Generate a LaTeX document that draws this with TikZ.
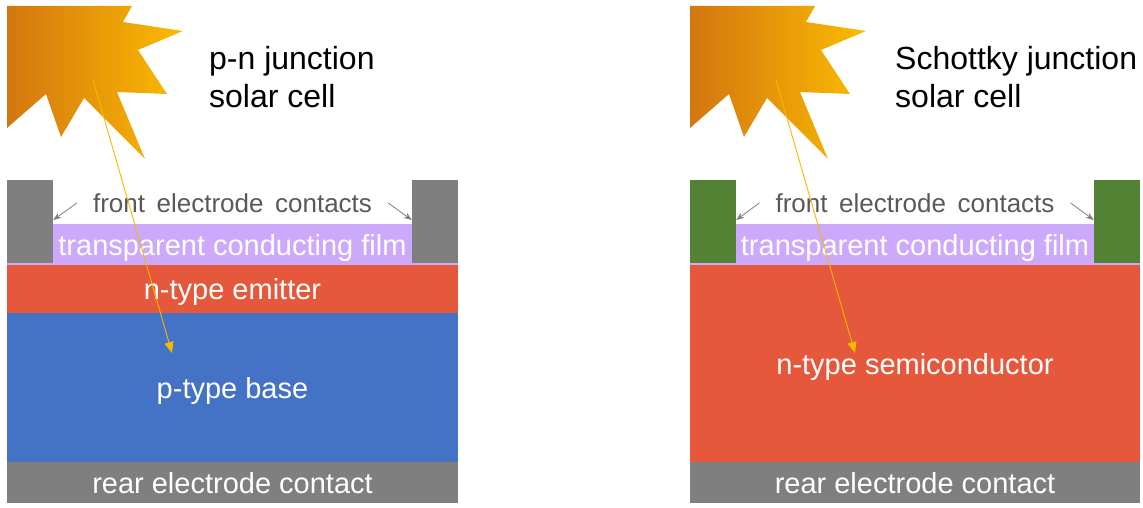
\documentclass[tikz,border=0pt]{standalone}
\usepackage{fontspec}
\setmainfont{Liberation Sans}
\usepackage{tikz}
\usetikzlibrary{positioning, arrows.meta}

\definecolor{contactgray}{HTML}{7F7F7F}
\definecolor{contactgreen}{HTML}{548235}
\definecolor{filmpurple}{HTML}{CDA9FB}
\definecolor{ntypered}{HTML}{E5583B}
\definecolor{ptypeblue}{HTML}{4472C4}
\definecolor{labelgray}{HTML}{595959}
\definecolor{sundark}{HTML}{C86414}
\definecolor{sungold}{HTML}{FCBE00}
\definecolor{raygold}{HTML}{F5B900}

\tikzset{
    layer/.style={inner sep=0pt, text=white, text depth=0pt, font=\fontsize{29}{34}\selectfont},
    contact/.style={inner sep=0pt, minimum width=46pt, minimum height=83pt},
    title/.style={inner sep=0pt, anchor=west, align=left, font=\fontsize{32}{38}\selectfont},
    pointer/.style={draw=contactgray, line width=0.8pt, -{Stealth[length=8pt, width=6pt]}},
    ray/.style={draw=raygold, line width=0.9pt, -{Triangle[length=11pt, width=9pt]}}
}

\begin{document}
\begin{tikzpicture}[x=1pt, y=-1pt]
    \useasboundingbox (0,0) rectangle (1143,508);

    % the two suns
    \foreach \dx in {0,683} {
        \begin{scope}[xshift=\dx]
            \clip (7,6) -- (132,6) -- (123,22) -- (183,31) -- (138,50) -- (167,94)
                -- (117,92) -- (145,159) -- (84,98) -- (61,137) -- (46,94) -- (7,128) -- cycle;
            \shade[left color=sundark, right color=sungold] (-40,0) rectangle (190,170);
        \end{scope}
    }

    % p-n junction cell
    \node[layer, fill=filmpurple, minimum width=451pt, minimum height=41pt] (filmL) at (232.5,244.5) {transparent conducting film};
    \node[contact, fill=contactgray] (frontLa) at (30,221.5) {};
    \node[contact, fill=contactgray] (frontLb) at (435,221.5) {};
    \node[layer, fill=ntypered, minimum width=451pt, minimum height=48pt] (emitter) at (232.5,289) {n-type emitter};
    \node[layer, fill=ptypeblue, minimum width=451pt, minimum height=149pt] (base) at (232.5,387.5) {p-type base};
    \node[layer, fill=contactgray, minimum width=451pt, minimum height=41pt] (rearL) at (232.5,482.5) {rear electrode contact};
    \node[text=labelgray, font=\fontsize{26}{30}\selectfont, inner sep=0pt] (frontlabL) at (232.5,203) {front\, electrode\, contacts};
    \node[title] (titleL) at (209,77) {p-n junction\\solar cell};

    \coordinate (rayLa) at (93,80);
    \coordinate (rayLb) at (172,353);
    \draw[ray] (rayLa) -- (rayLb);
    \draw[pointer] ([xshift=-16pt]frontlabL.west) -- (frontLa.north east |- 0,220);
    \draw[pointer] ([xshift=16pt]frontlabL.east) -- (frontLb.north west |- 0,220);

    % Schottky junction cell
    \node[layer, fill=filmpurple, minimum width=450pt, minimum height=41pt] (filmR) at (915,244.5) {transparent conducting film};
    \node[contact, fill=contactgreen] (frontRa) at (713,221.5) {};
    \node[contact, fill=contactgreen] (frontRb) at (1117,221.5) {};
    \node[layer, fill=ntypered, minimum width=450pt, minimum height=197pt] (semi) at (915,363.5) {n-type semiconductor};
    \node[layer, fill=contactgray, minimum width=450pt, minimum height=41pt] (rearR) at (915,482.5) {rear electrode contact};
    \node[text=labelgray, font=\fontsize{26}{30}\selectfont, inner sep=0pt] (frontlabR) at (915,203) {front\, electrode\, contacts};
    \node[title] (titleR) at (895,77) {Schottky junction\\solar cell};

    \coordinate (rayRa) at (776,80);
    \coordinate (rayRb) at (855,353);
    \draw[ray] (rayRa) -- (rayRb);
    \draw[pointer] ([xshift=-16pt]frontlabR.west) -- (frontRa.north east |- 0,220);
    \draw[pointer] ([xshift=16pt]frontlabR.east) -- (frontRb.north west |- 0,220);
\end{tikzpicture}
\end{document}
